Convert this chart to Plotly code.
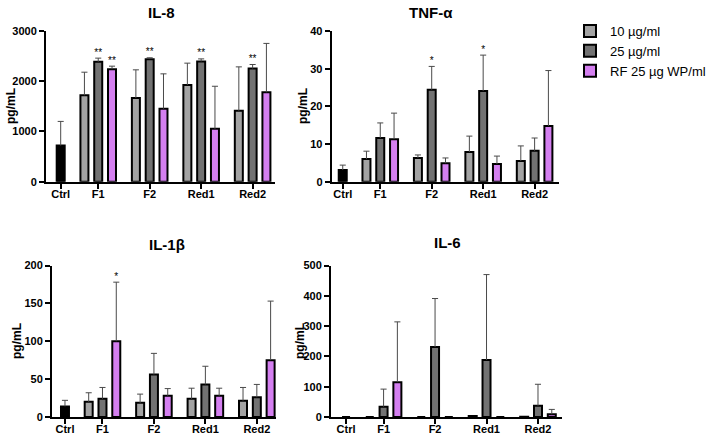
import plotly.graph_objects as go

# ---------------- data ----------------
groups = ["F1", "F2", "Red1", "Red2"]
tick_labels = ["Ctrl", "F1", "F2", "Red1", "Red2"]
series_names = ["10 µg/ml", "25 µg/ml", "RF 25 µg WP/ml"]

# IL-8
il8_ctrl = 720
il8_ctrl_sd = 480
il8_10 = [1720, 1667, 1927, 1413]
il8_10_sd = [460, 560, 433, 873]
il8_25 = [2387, 2440, 2395, 2253]
il8_25_sd = [73, 27, 50, 80]
il8_rf = [2240, 1453, 1053, 1780]
il8_rf_sd = [60, 694, 847, 973]
il8_sig = [["", "", "", ""], ["**", "**", "**", "**"], ["**", "", "", ""]]

# TNF-alpha
tnf_ctrl = 3.1
tnf_ctrl_sd = 1.3
tnf_10 = [6.0, 6.3, 7.9, 5.5]
tnf_10_sd = [2.1, 0.8, 4.2, 4.0]
tnf_25 = [11.6, 24.4, 24.1, 8.2]
tnf_25_sd = [4.0, 6.2, 9.5, 3.4]
tnf_rf = [11.3, 4.9, 4.7, 14.8]
tnf_rf_sd = [6.9, 1.4, 2.1, 14.7]
tnf_sig = [["", "", "", ""], ["", "*", "*", ""], ["", "", "", ""]]

# IL-1beta
il1b_ctrl = 14
il1b_ctrl_sd = 8
il1b_10 = [20, 18.7, 24, 21.5]
il1b_10_sd = [12, 11.5, 14, 17.5]
il1b_25 = [24, 56, 43, 26]
il1b_25_sd = [15, 28, 24, 17]
il1b_rf = [100, 28, 28, 75]
il1b_rf_sd = [78, 9.5, 10, 78]
il1b_sig = [["", "", "", ""], ["", "", "", ""], ["*", "", "", ""]]

# IL-6
il6_ctrl = 0
il6_ctrl_sd = 0
il6_10 = [0, 0, 3, 1]
il6_10_sd = [0, 0, 0, 0]
il6_25 = [34, 231, 188, 37]
il6_25_sd = [58, 160, 282, 71]
il6_rf = [115, 0, 0, 9]
il6_rf_sd = [199, 0, 0, 16]
il6_sig = [["", "", "", ""], ["", "", "", ""], ["", "", "", ""]]

# ---------------- style / layout ----------------
W, H = 708, 436
COLORS = ["#a3a3a3", "#727272", "#d47ff0"]
CTRL_COLOR = "#000000"
ERR_COLOR = "#4a4a4a"
FONT = "Liberation Sans, Arial, sans-serif"

BAR_STEP = 1.0
GROUP_STEP = 3.73
CTRL_GAP = 2.72
BAR_W = 0.58
CAP = 0.22

ctrl_x = 0.0
group_x = [CTRL_GAP + GROUP_STEP * i for i in range(len(groups))]
tick_x = [ctrl_x] + group_x


def px_x(p):
    return p / W


def px_y(p):
    return 1 - p / H


panels = [
    dict(name="IL-8", ctrl=il8_ctrl, ctrl_sd=il8_ctrl_sd,
         vals=[il8_10, il8_25, il8_rf], sds=[il8_10_sd, il8_25_sd, il8_rf_sd], sig=il8_sig,
         ymax=3000, dtick=1000, xpx=(46, 274.7), ypx=(31, 181.7), xr=(-1.065, 15.51),
         title=(161, 12), ytitle=(11, 106)),
    dict(name="TNF-α", ctrl=tnf_ctrl, ctrl_sd=tnf_ctrl_sd,
         vals=[tnf_10, tnf_25, tnf_rf], sds=[tnf_10_sd, tnf_25_sd, tnf_rf_sd], sig=tnf_sig,
         ymax=40, dtick=10, xpx=(331.7, 559.3), ypx=(31, 181.7), xr=(-0.8, 15.7),
         title=(431, 12), ytitle=(303, 106)),
    dict(name="IL-1β", ctrl=il1b_ctrl, ctrl_sd=il1b_ctrl_sd,
         vals=[il1b_10, il1b_25, il1b_rf], sds=[il1b_10_sd, il1b_25_sd, il1b_rf_sd], sig=il1b_sig,
         ymax=200, dtick=50, xpx=(52, 276), ypx=(265.5, 417), xr=(-0.94, 15.3),
         title=(167, 244), ytitle=(17, 341)),
    dict(name="IL-6", ctrl=il6_ctrl, ctrl_sd=il6_ctrl_sd,
         vals=[il6_10, il6_25, il6_rf], sds=[il6_10_sd, il6_25_sd, il6_rf_sd], sig=il6_sig,
         ymax=500, dtick=100, xpx=(331, 562), ypx=(265.5, 417), xr=(-1.09, 15.65),
         title=(447, 242), ytitle=(300, 341)),
]

fig = go.Figure()
annotations = []
layout_axes = {}

for k, p in enumerate(panels):
    sfx = "" if k == 0 else str(k + 1)
    xa, ya = "x" + sfx, "y" + sfx

    # control bar
    fig.add_trace(go.Bar(
        x=[ctrl_x], y=[p["ctrl"]], width=BAR_W, xaxis=xa, yaxis=ya,
        marker=dict(color=CTRL_COLOR, line=dict(color="black", width=2)),
        showlegend=False, hoverinfo="skip"))

    ex, ey = [], []
    sx, sy, st = [], [], []
    if p["ctrl_sd"] > 0:
        top = p["ctrl"] + p["ctrl_sd"]
        ex += [ctrl_x, ctrl_x, None, ctrl_x - CAP, ctrl_x + CAP, None]
        ey += [p["ctrl"], top, None, top, top, None]

    for s in range(3):
        xs = [gx + (s - 1) * BAR_STEP for gx in group_x]
        fig.add_trace(go.Bar(
            x=xs, y=p["vals"][s], width=BAR_W, xaxis=xa, yaxis=ya,
            name=series_names[s], legendgroup=series_names[s], showlegend=(k == 0),
            marker=dict(color=COLORS[s], line=dict(color="black", width=2)),
            hoverinfo="skip"))
        for xi, v, sd, sg in zip(xs, p["vals"][s], p["sds"][s], p["sig"][s]):
            top = v + sd
            if sd > 0:
                ex += [xi, xi, None, xi - CAP, xi + CAP, None]
                ey += [v, top, None, top, top, None]
            if sg:
                sx.append(xi)
                sy.append(top)
                st.append(sg)

    fig.add_trace(go.Scatter(
        x=ex, y=ey, mode="lines", xaxis=xa, yaxis=ya,
        line=dict(color=ERR_COLOR, width=1), showlegend=False, hoverinfo="skip"))
    if st:
        fig.add_trace(go.Scatter(
            x=sx, y=sy, mode="text", text=st, textposition="top center",
            textfont=dict(family=FONT, size=10, color="black"),
            xaxis=xa, yaxis=ya, showlegend=False, hoverinfo="skip"))

    x0, x1 = p["xpx"]
    yt, yb = p["ypx"]
    layout_axes["xaxis" + sfx] = dict(
        domain=[px_x(x0), px_x(x1)], range=list(p["xr"]), anchor=ya,
        tickmode="array", tickvals=tick_x, ticktext=tick_labels,
        ticks="outside", ticklen=5, tickwidth=2, tickcolor="black",
        ticklabelstandoff=-4,
        showline=True, linecolor="black", linewidth=2, showgrid=False, zeroline=False,
        automargin=False,
        tickfont=dict(family=FONT, size=11, color="black", weight="bold"), fixedrange=True)
    layout_axes["yaxis" + sfx] = dict(
        domain=[px_y(yb), px_y(yt)], range=[0, p["ymax"]], anchor=xa,
        dtick=p["dtick"], tick0=0,
        ticks="outside", ticklen=5, tickwidth=2, tickcolor="black",
        showline=True, linecolor="black", linewidth=2, showgrid=False, zeroline=False,
        automargin=False,
        tickfont=dict(family=FONT, size=11, color="black", weight="bold"), fixedrange=True)

    tx, ty = p["title"]
    annotations.append(dict(
        text="<b>" + p["name"] + "</b>", x=px_x(tx), y=px_y(ty), xref="paper", yref="paper",
        showarrow=False, xanchor="center", yanchor="middle",
        font=dict(family=FONT, size=15, color="black")))
    ax_, ay_ = p["ytitle"]
    annotations.append(dict(
        text="<b>pg/mL</b>", x=px_x(ax_), y=px_y(ay_), xref="paper", yref="paper",
        showarrow=False, xanchor="center", yanchor="middle", textangle=-90,
        font=dict(family=FONT, size=12, color="black")))

fig.update_layout(
    width=W, height=H,
    margin=dict(l=0, r=0, t=0, b=0, autoexpand=False),
    paper_bgcolor="white", plot_bgcolor="white",
    barmode="overlay",
    font=dict(family=FONT, color="black"),
    annotations=annotations,
    legend=dict(xref="container", yref="container",
                x=px_x(570), y=px_y(16), xanchor="left", yanchor="top",
                font=dict(family=FONT, size=13, color="black"),
                bgcolor="rgba(0,0,0,0)", tracegroupgap=0),
    **layout_axes,
)

fig.write_html("out.html",
               config={"displayModeBar": False, "staticPlot": True},
               post_script="document.body.style.margin='0';document.body.style.overflow='hidden';")
